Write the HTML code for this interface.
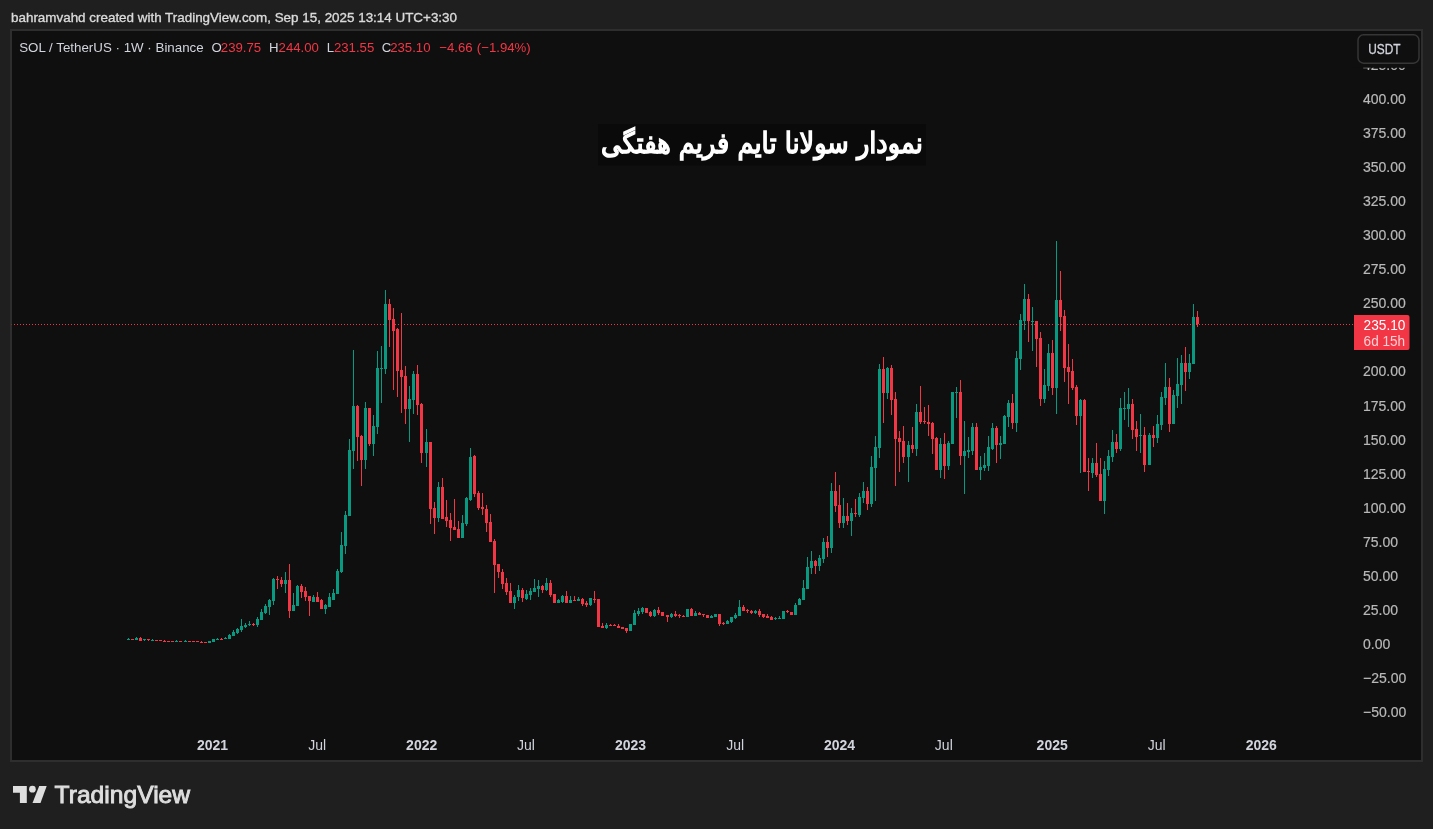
<!DOCTYPE html>
<html><head><meta charset="utf-8"><style>
html,body{margin:0;padding:0;}
body{width:1433px;height:829px;overflow:hidden;background:#1f1f1f;position:relative;font-family:"Liberation Sans","DejaVu Sans",sans-serif;}
#frame{position:absolute;left:10px;top:29px;width:1413px;height:733px;box-sizing:border-box;border:2px solid #2e2e2e;background:#0f0f0f;}
svg{position:absolute;left:0;top:0;will-change:transform;}
</style></head><body>
<div id="frame"></div>
<svg width="1433" height="829" viewBox="0 0 1433 829" font-family="'Liberation Sans','DejaVu Sans',sans-serif">
<text x="11" y="21.8" font-size="13.4" fill="#dadada" stroke="#dadada" stroke-width="0.35" textLength="446" lengthAdjust="spacingAndGlyphs">bahramvahd created with TradingView.com, Sep 15, 2025 13:14 UTC+3:30</text>
<g shape-rendering="crispEdges">
<path fill="#089981" d="M128 638h1v2h-1zM127 639h3v1h-3zM136 637h1v3h-1zM135 638h3v2h-3zM144 639h1v2h-1zM143 639h3v1h-3zM152 639h1v2h-1zM151 640h3v1h-3zM176 640h1v2h-1zM175 641h3v1h-3zM185 640h1v2h-1zM184 641h3v1h-3zM209 641h1v2h-1zM208 641h3v2h-3zM213 639h1v3h-1zM212 639h3v3h-3zM217 638h1v2h-1zM216 639h3v1h-3zM225 637h1v2h-1zM224 638h3v1h-3zM229 634h1v5h-1zM228 635h3v4h-3zM233 630h1v6h-1zM232 632h3v4h-3zM237 628h1v6h-1zM236 629h3v4h-3zM241 619h1v13h-1zM240 626h3v4h-3zM245 623h1v5h-1zM244 625h3v2h-3zM249 621h1v5h-1zM248 624h3v1h-3zM257 617h1v10h-1zM256 619h3v6h-3zM261 609h1v11h-1zM260 612h3v8h-3zM265 604h1v10h-1zM264 606h3v7h-3zM269 599h1v16h-1zM268 600h3v7h-3zM273 578h1v27h-1zM272 579h3v22h-3zM285 572h1v21h-1zM284 580h3v4h-3zM293 593h1v18h-1zM292 605h3v6h-3zM297 585h1v21h-1zM296 586h3v20h-3zM313 595h1v7h-1zM312 597h3v5h-3zM325 604h1v10h-1zM324 605h3v4h-3zM329 593h1v14h-1zM328 597h3v10h-3zM333 589h1v11h-1zM332 593h3v7h-3zM337 569h1v25h-1zM336 571h3v23h-3zM341 532h1v41h-1zM340 545h3v27h-3zM345 511h1v43h-1zM344 515h3v31h-3zM349 439h1v77h-1zM348 450h3v66h-3zM353 350h1v119h-1zM352 406h3v45h-3zM365 402h1v67h-1zM364 408h3v52h-3zM373 415h1v41h-1zM372 426h3v18h-3zM377 351h1v83h-1zM376 368h3v59h-3zM381 346h1v57h-1zM380 368h3v1h-3zM385 290h1v84h-1zM384 304h3v65h-3zM409 386h1v56h-1zM408 399h3v10h-3zM413 371h1v43h-1zM412 374h3v26h-3zM426 429h1v38h-1zM425 442h3v11h-3zM438 482h1v40h-1zM437 487h3v31h-3zM462 515h1v23h-1zM461 523h3v15h-3zM466 497h1v29h-1zM465 498h3v26h-3zM470 448h1v53h-1zM469 457h3v43h-3zM514 595h1v14h-1zM513 597h3v6h-3zM518 585h1v16h-1zM517 590h3v7h-3zM526 590h1v10h-1zM525 594h3v5h-3zM530 588h1v12h-1zM529 591h3v4h-3zM534 579h1v13h-1zM533 588h3v4h-3zM538 580h1v17h-1zM537 586h3v3h-3zM546 578h1v13h-1zM545 583h3v7h-3zM558 599h1v4h-1zM557 600h3v3h-3zM562 595h1v8h-1zM561 596h3v6h-3zM570 596h1v7h-1zM569 600h3v3h-3zM578 597h1v4h-1zM577 599h3v2h-3zM590 598h1v8h-1zM589 598h3v7h-3zM606 623h1v6h-1zM605 625h3v3h-3zM630 624h1v7h-1zM629 624h3v7h-3zM634 610h1v15h-1zM633 613h3v12h-3zM638 608h1v8h-1zM637 611h3v3h-3zM642 607h1v7h-1zM641 608h3v4h-3zM654 609h1v8h-1zM653 610h3v6h-3zM671 613h1v5h-1zM670 614h3v3h-3zM687 609h1v8h-1zM686 609h3v8h-3zM695 611h1v5h-1zM694 613h3v3h-3zM711 615h1v3h-1zM710 616h3v2h-3zM715 614h1v3h-1zM714 614h3v3h-3zM727 620h1v4h-1zM726 621h3v3h-3zM731 617h1v6h-1zM730 617h3v5h-3zM735 613h1v6h-1zM734 615h3v3h-3zM739 600h1v16h-1zM738 607h3v9h-3zM755 610h1v4h-1zM754 611h3v2h-3zM775 617h1v3h-1zM774 618h3v1h-3zM779 616h1v3h-1zM778 618h3v1h-3zM783 611h1v8h-1zM782 611h3v8h-3zM795 603h1v12h-1zM794 605h3v10h-3zM799 598h1v7h-1zM798 599h3v6h-3zM803 580h1v20h-1zM802 588h3v12h-3zM807 557h1v32h-1zM806 567h3v22h-3zM811 551h1v23h-1zM810 561h3v7h-3zM819 555h1v16h-1zM818 558h3v8h-3zM823 538h1v25h-1zM822 542h3v17h-3zM831 483h1v70h-1zM830 491h3v57h-3zM843 498h1v30h-1zM842 516h3v7h-3zM851 508h1v28h-1zM850 513h3v8h-3zM859 493h1v24h-1zM858 497h3v18h-3zM863 482h1v21h-1zM862 491h3v7h-3zM871 456h1v51h-1zM870 467h3v37h-3zM875 436h1v65h-1zM874 447h3v21h-3zM879 364h1v94h-1zM878 369h3v79h-3zM887 367h1v32h-1zM886 368h3v25h-3zM908 441h1v41h-1zM907 445h3v12h-3zM916 404h1v52h-1zM915 412h3v37h-3zM940 438h1v40h-1zM939 444h3v26h-3zM948 441h1v29h-1zM947 443h3v23h-3zM952 392h1v52h-1zM951 392h3v52h-3zM956 387h1v31h-1zM955 392h3v1h-3zM964 421h1v73h-1zM963 451h3v5h-3zM968 437h1v21h-1zM967 450h3v2h-3zM972 423h1v32h-1zM971 427h3v24h-3zM980 456h1v24h-1zM979 467h3v3h-3zM984 453h1v18h-1zM983 465h3v3h-3zM988 436h1v35h-1zM987 447h3v19h-3zM992 423h1v27h-1zM991 428h3v21h-3zM1000 436h1v23h-1zM999 443h3v2h-3zM1004 415h1v29h-1zM1003 416h3v28h-3zM1008 400h1v27h-1zM1007 403h3v14h-3zM1016 351h1v81h-1zM1015 358h3v65h-3zM1020 314h1v56h-1zM1019 320h3v39h-3zM1024 284h1v46h-1zM1023 299h3v22h-3zM1032 307h1v44h-1zM1031 321h3v1h-3zM1044 369h1v34h-1zM1043 385h3v14h-3zM1048 344h1v47h-1zM1047 353h3v33h-3zM1056 241h1v173h-1zM1055 300h3v88h-3zM1080 399h1v74h-1zM1079 400h3v16h-3zM1092 458h1v20h-1zM1091 463h3v10h-3zM1104 461h1v53h-1zM1103 469h3v32h-3zM1108 450h1v26h-1zM1107 456h3v14h-3zM1112 430h1v32h-1zM1111 442h3v15h-3zM1120 398h1v53h-1zM1119 408h3v41h-3zM1124 392h1v28h-1zM1123 408h3v1h-3zM1128 388h1v39h-1zM1127 404h3v5h-3zM1140 414h1v39h-1zM1139 435h3v1h-3zM1149 433h1v32h-1zM1148 435h3v30h-3zM1157 415h1v28h-1zM1156 424h3v14h-3zM1161 392h1v38h-1zM1160 397h3v28h-3zM1165 363h1v42h-1zM1164 387h3v11h-3zM1173 390h1v34h-1zM1172 395h3v29h-3zM1177 358h1v50h-1zM1176 384h3v12h-3zM1181 355h1v49h-1zM1180 363h3v22h-3zM1189 354h1v25h-1zM1188 363h3v9h-3zM1193 304h1v60h-1zM1192 317h3v47h-3z"/>
<path fill="#f23645" d="M132 639h1v1h-1zM131 639h3v1h-3zM140 637h1v4h-1zM139 638h3v3h-3zM148 639h1v2h-1zM147 639h3v1h-3zM156 640h1v1h-1zM155 640h3v1h-3zM160 640h1v1h-1zM159 640h3v1h-3zM164 640h1v2h-1zM163 641h3v1h-3zM168 641h1v1h-1zM167 641h3v1h-3zM172 641h1v1h-1zM171 641h3v1h-3zM180 641h1v1h-1zM179 641h3v1h-3zM189 641h1v1h-1zM188 641h3v1h-3zM193 641h1v1h-1zM192 641h3v1h-3zM197 641h1v1h-1zM196 641h3v1h-3zM201 641h1v2h-1zM200 642h3v1h-3zM205 642h1v1h-1zM204 642h3v1h-3zM221 638h1v2h-1zM220 639h3v1h-3zM253 623h1v3h-1zM252 624h3v1h-3zM277 576h1v13h-1zM276 579h3v1h-3zM281 577h1v10h-1zM280 580h3v4h-3zM289 564h1v54h-1zM288 580h3v31h-3zM301 584h1v14h-1zM300 586h3v6h-3zM305 587h1v14h-1zM304 591h3v6h-3zM309 596h1v20h-1zM308 596h3v5h-3zM317 592h1v10h-1zM316 597h3v5h-3zM321 599h1v10h-1zM320 600h3v9h-3zM357 405h1v56h-1zM356 406h3v31h-3zM361 435h1v51h-1zM360 436h3v24h-3zM369 408h1v38h-1zM368 408h3v36h-3zM389 299h1v48h-1zM388 304h3v16h-3zM393 308h1v82h-1zM392 319h3v12h-3zM397 328h1v69h-1zM396 329h3v42h-3zM401 313h1v100h-1zM400 370h3v7h-3zM405 366h1v58h-1zM404 376h3v33h-3zM417 365h1v50h-1zM416 374h3v31h-3zM421 403h1v60h-1zM420 404h3v49h-3zM430 442h1v82h-1zM429 442h3v67h-3zM434 502h1v32h-1zM433 508h3v10h-3zM442 478h1v41h-1zM441 487h3v32h-3zM446 500h1v27h-1zM445 517h3v4h-3zM450 513h1v28h-1zM449 520h3v8h-3zM454 499h1v31h-1zM453 527h3v3h-3zM458 521h1v17h-1zM457 529h3v9h-3zM474 455h1v42h-1zM473 456h3v38h-3zM478 491h1v19h-1zM477 493h3v15h-3zM482 493h1v22h-1zM481 507h3v2h-3zM486 505h1v27h-1zM485 509h3v14h-3zM490 514h1v28h-1zM489 522h3v20h-3zM494 539h1v54h-1zM493 541h3v24h-3zM498 564h1v14h-1zM497 564h3v8h-3zM502 569h1v20h-1zM501 572h3v12h-3zM506 578h1v17h-1zM505 583h3v9h-3zM510 583h1v20h-1zM509 591h3v12h-3zM522 588h1v14h-1zM521 590h3v8h-3zM542 585h1v8h-1zM541 586h3v4h-3zM550 580h1v17h-1zM549 583h3v12h-3zM554 594h1v9h-1zM553 594h3v9h-3zM566 591h1v12h-1zM565 596h3v7h-3zM574 596h1v5h-1zM573 600h3v1h-3zM582 598h1v8h-1zM581 599h3v5h-3zM586 601h1v6h-1zM585 603h3v2h-3zM594 591h1v12h-1zM593 599h3v1h-3zM598 599h1v28h-1zM597 599h3v28h-3zM602 623h1v5h-1zM601 626h3v2h-3zM610 624h1v2h-1zM609 625h3v1h-3zM614 624h1v2h-1zM613 625h3v1h-3zM618 624h1v4h-1zM617 626h3v2h-3zM622 627h1v2h-1zM621 627h3v2h-3zM626 628h1v5h-1zM625 628h3v3h-3zM646 608h1v5h-1zM645 608h3v5h-3zM650 611h1v6h-1zM649 612h3v4h-3zM658 607h1v8h-1zM657 610h3v3h-3zM662 612h1v4h-1zM661 612h3v4h-3zM667 615h1v7h-1zM666 615h3v2h-3zM675 611h1v6h-1zM674 614h3v2h-3zM679 614h1v4h-1zM678 615h3v1h-3zM683 615h1v2h-1zM682 616h3v1h-3zM691 608h1v8h-1zM690 609h3v7h-3zM699 612h1v3h-1zM698 613h3v2h-3zM703 614h1v3h-1zM702 614h3v1h-3zM707 615h1v3h-1zM706 615h3v3h-3zM719 614h1v12h-1zM718 614h3v10h-3zM723 622h1v3h-1zM722 623h3v1h-3zM743 605h1v6h-1zM742 607h3v4h-3zM747 609h1v4h-1zM746 610h3v1h-3zM751 610h1v4h-1zM750 611h3v2h-3zM759 609h1v8h-1zM758 611h3v4h-3zM763 614h1v4h-1zM762 614h3v3h-3zM767 614h1v4h-1zM766 616h3v2h-3zM771 616h1v4h-1zM770 617h3v3h-3zM787 610h1v3h-1zM786 611h3v1h-3zM791 612h1v3h-1zM790 612h3v3h-3zM815 560h1v14h-1zM814 561h3v5h-3zM827 536h1v21h-1zM826 542h3v6h-3zM835 472h1v40h-1zM834 491h3v15h-3zM839 485h1v43h-1zM838 505h3v18h-3zM847 503h1v22h-1zM846 516h3v5h-3zM855 499h1v18h-1zM854 513h3v1h-3zM867 487h1v23h-1zM866 491h3v13h-3zM883 357h1v66h-1zM882 369h3v24h-3zM891 365h1v50h-1zM890 368h3v32h-3zM895 392h1v94h-1zM894 399h3v40h-3zM899 431h1v41h-1zM898 438h3v4h-3zM903 426h1v37h-1zM902 441h3v16h-3zM912 427h1v26h-1zM911 445h3v4h-3zM920 386h1v38h-1zM919 412h3v10h-3zM924 407h1v17h-1zM923 421h3v1h-3zM928 405h1v31h-1zM927 422h3v2h-3zM932 422h1v32h-1zM931 423h3v16h-3zM936 437h1v33h-1zM935 438h3v32h-3zM944 433h1v46h-1zM943 444h3v22h-3zM960 380h1v85h-1zM959 392h3v64h-3zM976 423h1v47h-1zM975 427h3v43h-3zM996 426h1v37h-1zM995 428h3v17h-3zM1012 394h1v35h-1zM1011 403h3v20h-3zM1028 294h1v48h-1zM1027 299h3v22h-3zM1036 321h1v46h-1zM1035 321h3v18h-3zM1040 332h1v74h-1zM1039 338h3v61h-3zM1052 340h1v55h-1zM1051 353h3v35h-3zM1060 271h1v60h-1zM1059 300h3v17h-3zM1064 310h1v72h-1zM1063 316h3v52h-3zM1068 344h1v60h-1zM1067 367h3v5h-3zM1072 359h1v31h-1zM1071 371h3v17h-3zM1076 385h1v40h-1zM1075 387h3v29h-3zM1084 399h1v73h-1zM1083 400h3v72h-3zM1088 458h1v33h-1zM1087 471h3v1h-3zM1096 443h1v34h-1zM1095 463h3v12h-3zM1100 458h1v43h-1zM1099 474h3v27h-3zM1116 434h1v19h-1zM1115 442h3v7h-3zM1132 399h1v40h-1zM1131 404h3v26h-3zM1136 421h1v30h-1zM1135 429h3v8h-3zM1144 427h1v45h-1zM1143 435h3v30h-3zM1153 426h1v21h-1zM1152 435h3v3h-3zM1169 378h1v54h-1zM1168 387h3v37h-3zM1185 347h1v44h-1zM1184 363h3v9h-3zM1197 311h1v16h-1zM1196 317h3v7h-3z"/>
<rect x="11" y="324" width="1" height="1" fill="#f23645" fill-opacity="0.35"/><line x1="14" y1="324.5" x2="1353" y2="324.5" stroke="#f23645" stroke-width="1" stroke-dasharray="1 2"/>
</g>
<rect x="598" y="124" width="328" height="41.5" fill="#0a0a0a"/>
<text transform="translate(762 153) scale(1.0 1.12)" x="0" y="0" text-anchor="middle" direction="rtl" font-family="'DejaVu Sans',sans-serif" font-size="25.6" fill="#ffffff" stroke="#ffffff" stroke-width="1.3">نمودار سولانا تایم فریم هفتگی</text>
<g font-size="14" fill="#b8b8b8" stroke="#b8b8b8" stroke-width="0.2"><text x="1363" y="104">400.00</text><text x="1363" y="138">375.00</text><text x="1363" y="172">350.00</text><text x="1363" y="206">325.00</text><text x="1363" y="240">300.00</text><text x="1363" y="274">275.00</text><text x="1363" y="308">250.00</text><text x="1363" y="376">200.00</text><text x="1363" y="411">175.00</text><text x="1363" y="445">150.00</text><text x="1363" y="479">125.00</text><text x="1363" y="513">100.00</text><text x="1363" y="547">75.00</text><text x="1363" y="581">50.00</text><text x="1363" y="615">25.00</text><text x="1363" y="649">0.00</text><text x="1363" y="683">−25.00</text><text x="1363" y="717">−50.00</text><text x="1363" y="70">425.00</text></g>
<rect x="1350" y="31" width="71" height="36.8" fill="#0f0f0f"/>
<rect x="1358" y="34.8" width="61" height="28.4" rx="5.5" fill="#0f0f0f" stroke="#363636" stroke-width="1.5"/>
<text x="1368.2" y="54" font-size="14" fill="#d1d4dc" textLength="32.3" lengthAdjust="spacingAndGlyphs" stroke="#d1d4dc" stroke-width="0.3">USDT</text>
<path d="M1354 315h53.5a2 2 0 0 1 2 2v31a2 2 0 0 1-2 2h-53.5z" fill="#f23645"/>
<text x="1363.6" y="330.2" font-size="14" fill="#ffffff" textLength="41.8" lengthAdjust="spacingAndGlyphs">235.10</text>
<text x="1363.6" y="346.2" font-size="14" fill="#fbd0d4" textLength="41.5" lengthAdjust="spacingAndGlyphs">6d 15h</text>
<g font-size="14" fill="#d1d4dc"><text x="212.5" y="750.3" text-anchor="middle" font-weight="bold">2021</text><text x="317.2" y="750.3" text-anchor="middle">Jul</text><text x="421.7" y="750.3" text-anchor="middle" font-weight="bold">2022</text><text x="526" y="750.3" text-anchor="middle">Jul</text><text x="630.5" y="750.3" text-anchor="middle" font-weight="bold">2023</text><text x="735.1" y="750.3" text-anchor="middle">Jul</text><text x="839.6" y="750.3" text-anchor="middle" font-weight="bold">2024</text><text x="943.8" y="750.3" text-anchor="middle">Jul</text><text x="1052.2" y="750.3" text-anchor="middle" font-weight="bold">2025</text><text x="1156.7" y="750.3" text-anchor="middle">Jul</text><text x="1261.3" y="750.3" text-anchor="middle" font-weight="bold">2026</text></g>
<text x="19.2" y="52" font-size="13.2" fill="#d1d4dc" textLength="184.5" lengthAdjust="spacingAndGlyphs">SOL / TetherUS · 1W · Binance</text><text x="211.6" y="52" font-size="13.2" fill="#d1d4dc">O</text><text x="220.8" y="52" font-size="13.2" fill="#f23645">239.75</text><text x="269.0" y="52" font-size="13.2" fill="#d1d4dc">H</text><text x="278.6" y="52" font-size="13.2" fill="#f23645">244.00</text><text x="326.8" y="52" font-size="13.2" fill="#d1d4dc">L</text><text x="333.9" y="52" font-size="13.2" fill="#f23645">231.55</text><text x="381.8" y="52" font-size="13.2" fill="#d1d4dc">C</text><text x="390.2" y="52" font-size="13.2" fill="#f23645">235.10</text><text x="439.2" y="52" font-size="13.2" fill="#f23645">−4.66</text><text x="476.8" y="52" font-size="13.2" fill="#f23645">(−1.94%)</text>
<g fill="#dedede">
<path d="M13 786H26.8V803H19.9V792.7H13Z"/>
<circle cx="32.4" cy="789.2" r="3.35"/>
<path d="M39.2 786H46.7L40.5 803H32.5Z"/>
</g>
<text x="54.6" y="803" font-size="23.7" fill="#dedede" stroke="#dedede" stroke-width="0.9" textLength="135.5" lengthAdjust="spacingAndGlyphs">TradingView</text>
</svg>
</body></html>
